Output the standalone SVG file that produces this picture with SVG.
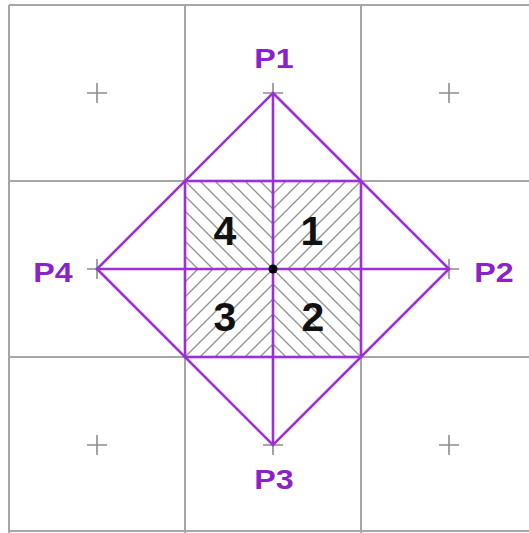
<svg xmlns="http://www.w3.org/2000/svg" width="529" height="533" viewBox="0 0 529 533">
<style>
.grid{stroke:#a6a6a6;stroke-width:2;fill:none}
.plus{stroke:#8c8c8c;stroke-width:1.6}
.purple{stroke:#9b30d9;stroke-width:2.6;fill:none;stroke-linecap:round}
.hatch{stroke:#8f8f8f;stroke-width:1.3}
.plabel{font-family:"Liberation Sans",Arial,sans-serif;font-weight:bold;font-size:28px;fill:#8a22c8;text-anchor:middle}
.num{font-family:"Liberation Sans",Arial,sans-serif;font-weight:bold;font-size:41px;fill:#111;text-anchor:middle}
</style>
<defs>
<pattern id="back" patternUnits="userSpaceOnUse" x="273" y="269" width="15" height="15">
<path class="hatch" d="M0,0 L15,15 M-7.5,7.5 L7.5,22.5 M7.5,-7.5 L22.5,7.5"/>
</pattern>
<pattern id="fwd" patternUnits="userSpaceOnUse" x="273" y="269" width="15" height="15">
<path class="hatch" d="M0,15 L15,0 M-7.5,7.5 L7.5,-7.5 M7.5,22.5 L22.5,7.5"/>
</pattern>
<path id="pl" class="plus" d="M-10,0 H10 M0,-10 V10"/>
</defs>
<rect width="529" height="533" fill="#fff"/>
<g id="grid">
<path class="grid" d="M9,5 H537 M9,181 H537 M9,357 H537 M9,531 H537 M9,5 V533 M185,5 V533 M361,5 V533"/>
</g>
<g id="hatching">
<rect x="185" y="181" width="88" height="88" fill="url(#back)"/>
<rect x="273" y="181" width="88" height="88" fill="url(#fwd)"/>
<rect x="185" y="269" width="88" height="88" fill="url(#fwd)"/>
<rect x="273" y="269" width="88" height="88" fill="url(#back)"/>
</g>
<g id="markers">
<use href="#pl" x="97" y="93"/>
<use href="#pl" x="273" y="93"/>
<use href="#pl" x="449" y="93"/>
<use href="#pl" x="97" y="269"/>
<use href="#pl" x="449" y="269"/>
<use href="#pl" x="97" y="445"/>
<use href="#pl" x="273" y="445"/>
<use href="#pl" x="449" y="445"/>
</g>
<g id="connectors">
<path class="purple" d="M273,93 L449,269 L273,445 L97,269 Z"/>
<path class="purple" d="M273,93 V445 M97,269 H449"/>
<rect class="purple" x="185" y="181" width="176" height="176"/>
</g>
<g id="center"><circle cx="273" cy="269" r="4.5" fill="#000"/></g>
<g id="P1"><text class="plabel" transform="translate(274,68) scale(1.15,1)">P1</text></g>
<g id="P2"><text class="plabel" transform="translate(494,282) scale(1.15,1)">P2</text></g>
<g id="P3"><text class="plabel" transform="translate(274,489) scale(1.15,1)">P3</text></g>
<g id="P4"><text class="plabel" transform="translate(53,282) scale(1.15,1)">P4</text></g>
<g id="q4"><text class="num" x="225" y="245">4</text></g>
<g id="q1"><text class="num" x="312" y="245">1</text></g>
<g id="q3"><text class="num" x="225" y="331">3</text></g>
<g id="q2"><text class="num" x="313" y="331">2</text></g>
</svg>
